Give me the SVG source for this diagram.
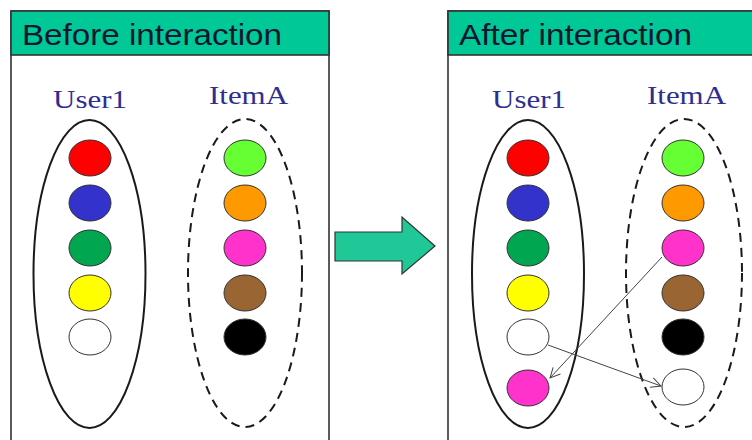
<svg xmlns="http://www.w3.org/2000/svg" width="752" height="440" viewBox="0 0 752 440">
  <style>
    .panel { fill: #ffffff; stroke: #333333; stroke-width: 1.6; }
    .hdr { fill: #00C896; stroke: #333333; stroke-width: 1.6; }
    .title { font-family: "Liberation Sans", Arial, sans-serif; font-size: 29px; fill: #0d1630; }
    .lbl { font-family: "Liberation Serif", "Times New Roman", serif; font-size: 26px; fill: #2e2e8f; }
    .set { fill: none; stroke: #1a1a1a; stroke-width: 2; }
    .dash { stroke-dasharray: 9 6; }
    .dot { stroke: #333333; stroke-width: 1; }
    .link { fill: none; stroke: #444444; stroke-width: 1; marker-end: url(#open); }
  </style>
  <defs>
    <marker id="open" viewBox="0 0 12 12" refX="11" refY="6" markerWidth="12" markerHeight="12" markerUnits="userSpaceOnUse" orient="auto">
      <path d="M1,1 L11,6 L1,11" fill="none" stroke="#444444" stroke-width="1"/>
    </marker>
  </defs>
  <rect width="752" height="440" fill="#ffffff"/>

  <!-- Before panel -->
  <g id="panel-before">
    <rect class="panel" x="11" y="11" width="318" height="440"/>
    <rect class="hdr" x="11" y="11" width="318" height="44"/>
    <text class="title" x="22" y="45" textLength="260" lengthAdjust="spacingAndGlyphs">Before interaction</text>
  </g>
  <g id="user1-before">
    <text class="lbl" x="53" y="108" textLength="74" lengthAdjust="spacingAndGlyphs">User1</text>
    <ellipse class="set" cx="89.5" cy="274" rx="56" ry="154"/>
    <ellipse class="dot" cx="90" cy="158" rx="21" ry="18" fill="#FF0000"/>
    <ellipse class="dot" cx="90" cy="203" rx="21" ry="18" fill="#3333CC"/>
    <ellipse class="dot" cx="90" cy="248" rx="21" ry="18" fill="#00A650"/>
    <ellipse class="dot" cx="90" cy="293" rx="21" ry="18" fill="#FFFF00"/>
    <ellipse class="dot" cx="90" cy="337" rx="21" ry="18" fill="#FFFFFF"/>
  </g>
  <g id="itemA-before">
    <text class="lbl" x="209" y="104" textLength="79" lengthAdjust="spacingAndGlyphs">ItemA</text>
    <ellipse class="set dash" cx="245" cy="273" rx="57" ry="154"/>
    <ellipse class="dot" cx="245" cy="158" rx="21" ry="18" fill="#66FF33"/>
    <ellipse class="dot" cx="245" cy="203" rx="21" ry="18" fill="#FF9900"/>
    <ellipse class="dot" cx="245" cy="248" rx="21" ry="18" fill="#FF33CC"/>
    <ellipse class="dot" cx="245" cy="293" rx="21" ry="18" fill="#996633"/>
    <ellipse class="dot" cx="245" cy="337" rx="21" ry="18" fill="#000000"/>
  </g>

  <!-- Transition arrow -->
  <g id="transition">
    <path d="M335,232 L402,232 L402,217 L435,246 L402,274 L402,261 L335,261 Z" fill="#1FC896" stroke="#333333" stroke-width="1.2"/>
  </g>

  <!-- After panel -->
  <g id="panel-after">
    <rect class="panel" x="448" y="11" width="320" height="440"/>
    <rect class="hdr" x="448" y="11" width="320" height="44"/>
    <text class="title" x="459" y="45" textLength="233" lengthAdjust="spacingAndGlyphs">After interaction</text>
  </g>
  <g id="user1-after">
    <text class="lbl" x="492" y="108" textLength="74" lengthAdjust="spacingAndGlyphs">User1</text>
    <ellipse class="set" cx="528" cy="274" rx="56" ry="154"/>
    <ellipse class="dot" cx="528" cy="158" rx="21" ry="18" fill="#FF0000"/>
    <ellipse class="dot" cx="528" cy="203" rx="21" ry="18" fill="#3333CC"/>
    <ellipse class="dot" cx="528" cy="248" rx="21" ry="18" fill="#00A650"/>
    <ellipse class="dot" cx="528" cy="293" rx="21" ry="18" fill="#FFFF00"/>
    <ellipse class="dot" cx="528" cy="337" rx="21" ry="18" fill="#FFFFFF"/>
    <ellipse class="dot" cx="528" cy="388" rx="21" ry="18" fill="#FF33CC"/>
  </g>
  <g id="itemA-after">
    <text class="lbl" x="647" y="104" textLength="79" lengthAdjust="spacingAndGlyphs">ItemA</text>
    <ellipse class="set dash" cx="684" cy="273" rx="58" ry="154"/>
    <ellipse class="dot" cx="683" cy="158" rx="21" ry="18" fill="#66FF33"/>
    <ellipse class="dot" cx="683" cy="203" rx="21" ry="18" fill="#FF9900"/>
    <ellipse class="dot" cx="683" cy="248" rx="21" ry="18" fill="#FF33CC"/>
    <ellipse class="dot" cx="683" cy="293" rx="21" ry="18" fill="#996633"/>
    <ellipse class="dot" cx="683" cy="337" rx="21" ry="18" fill="#000000"/>
    <ellipse class="dot" cx="683" cy="387" rx="21" ry="18" fill="#FFFFFF"/>
  </g>

  <!-- Exchange links -->
  <g id="connectors">
    <line class="link" x1="662" y1="257" x2="550" y2="378"/>
    <line class="link" x1="548" y1="345" x2="661" y2="386"/>
  </g>
</svg>
